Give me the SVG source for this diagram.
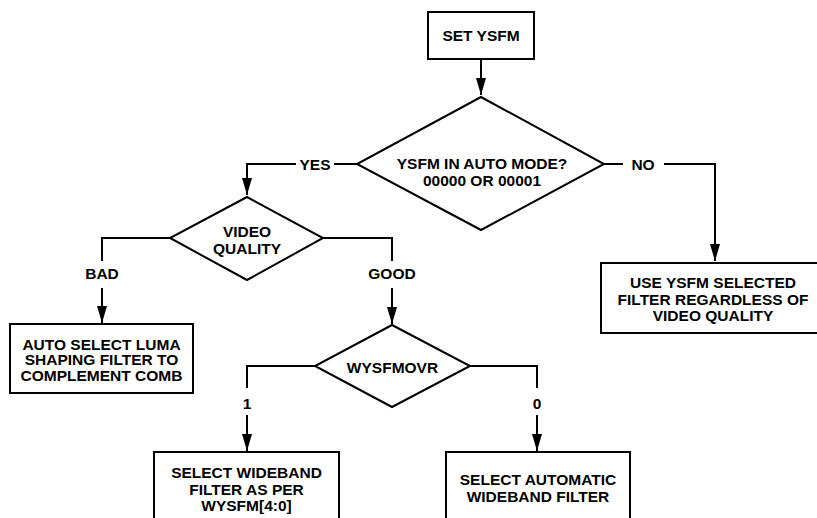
<svg xmlns="http://www.w3.org/2000/svg" width="817" height="518" viewBox="0 0 817 518">
<style>
.box{fill:#fff;stroke:#000;stroke-width:2}
.dia{fill:#fff;stroke:#000;stroke-width:2;stroke-linejoin:miter}
.ln{fill:none;stroke:#000;stroke-width:2}
text{font-family:"Liberation Sans",Arial,sans-serif;font-weight:bold;font-size:15.5px;fill:#000;text-anchor:middle}
</style>
<defs>
<marker id="ah" markerUnits="userSpaceOnUse" markerWidth="18" markerHeight="11" refX="17" refY="5" orient="auto">
<path d="M0,0 L17,5 L0,10 Z" fill="#000"/>
</marker>
</defs>
<rect width="817" height="518" fill="#fff"/>
<g id="connectors">
<path class="ln" d="M481,59 V95" marker-end="url(#ah)"/>
<path class="ln" d="M357,164 H334"/>
<path class="ln" d="M296,164 H247 V195" marker-end="url(#ah)"/>
<path class="ln" d="M604,164 H623"/>
<path class="ln" d="M664,164 H715 V261" marker-end="url(#ah)"/>
<path class="ln" d="M170,238 H102 V261"/>
<path class="ln" d="M102,288 V323" marker-end="url(#ah)"/>
<path class="ln" d="M323,238 H392 V261"/>
<path class="ln" d="M392,288 V324" marker-end="url(#ah)"/>
<path class="ln" d="M315,366 H247 V388"/>
<path class="ln" d="M247,415 V451" marker-end="url(#ah)"/>
<path class="ln" d="M470,366 H537 V388"/>
<path class="ln" d="M537,415 V451" marker-end="url(#ah)"/>
<text x="315" y="169.5">YES</text>
<text x="643" y="169.5">NO</text>
<text x="102" y="279">BAD</text>
<text x="392" y="279">GOOD</text>
<text x="247" y="408.5">1</text>
<text x="537" y="408.5">0</text>
</g>
<g id="set-ysfm">
<rect class="box" x="428" y="12" width="106" height="47"/>
<text x="481" y="41">SET YSFM</text>
</g>
<g id="auto-mode">
<path class="dia" d="M481,97 L604,164 L481,230 L357,164 Z"/>
<text x="482" y="168.5">YSFM IN AUTO MODE?</text>
<text x="482" y="185.5">00000 OR 00001</text>
</g>
<g id="video-quality">
<path class="dia" d="M247,197 L323,238 L247,280 L170,238 Z"/>
<text x="247" y="236.5">VIDEO</text>
<text x="247" y="253.5">QUALITY</text>
</g>
<g id="use-ysfm">
<rect class="box" x="601" y="263" width="226" height="70"/>
<text x="713" y="288">USE YSFM SELECTED</text>
<text x="713" y="305">FILTER REGARDLESS OF</text>
<text x="713" y="320.5">VIDEO QUALITY</text>
</g>
<g id="auto-luma">
<rect class="box" x="10" y="324" width="183" height="69"/>
<text x="101.5" y="349.5">AUTO SELECT LUMA</text>
<text x="101.5" y="365">SHAPING FILTER TO</text>
<text x="101.5" y="380.5">COMPLEMENT COMB</text>
</g>
<g id="wysfmovr">
<path class="dia" d="M392,325 L470,366 L392,407 L315,366 Z"/>
<text x="392.5" y="373">WYSFMOVR</text>
</g>
<g id="select-wideband">
<rect class="box" x="154" y="452" width="185" height="80"/>
<text x="246.5" y="478">SELECT WIDEBAND</text>
<text x="246.5" y="494.5">FILTER AS PER</text>
<text x="246.5" y="511">WYSFM[4:0]</text>
</g>
<g id="select-automatic">
<rect class="box" x="446" y="452" width="184" height="80"/>
<text x="538" y="485">SELECT AUTOMATIC</text>
<text x="538" y="501.5">WIDEBAND FILTER</text>
</g>
</svg>
